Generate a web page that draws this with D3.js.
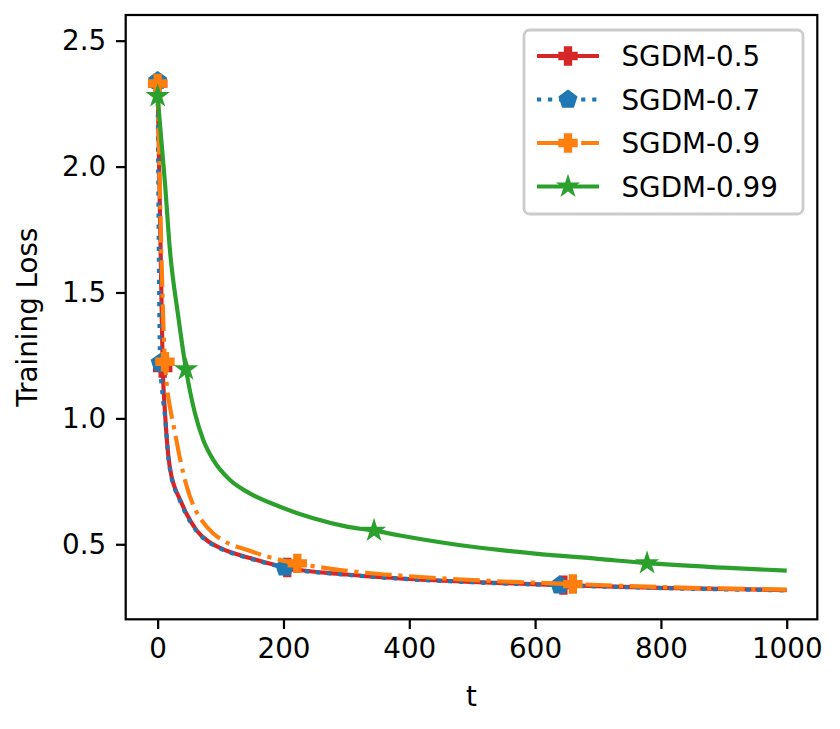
<!DOCTYPE html>
<html>
<head>
<meta charset="utf-8">
<script src="https://cdn.jsdelivr.net/npm/d3@7"></script>
<style>
  body { margin: 0; background: #fff; }
  text { font-family: "DejaVu Sans", sans-serif; fill: #000; }
</style>
</head>
<body>
<svg id="chart" width="840" height="729"></svg>
<script>
// values
const seriesNames = ['SGDM-0.5', 'SGDM-0.7', 'SGDM-0.9', 'SGDM-0.99'];

const stepsM05 = [0, 8, 12, 17, 22, 28, 36, 45, 62, 80, 100, 147, 173, 210, 300, 400, 500, 640, 800, 1000];
const lossM05 = [2.33, 1.20, 1.01, 0.85, 0.77, 0.72, 0.675, 0.625, 0.555, 0.512, 0.485, 0.445, 0.427, 0.405, 0.38, 0.362, 0.35, 0.338, 0.327, 0.318];

const stepsM07 = [0, 4, 8, 12, 17, 22, 28, 36, 45, 62, 80, 100, 147, 173, 210, 300, 400, 500, 640, 800, 1000];
const lossM07 = [2.34, 1.22, 1.09, 1.0, 0.845, 0.765, 0.715, 0.67, 0.62, 0.552, 0.51, 0.483, 0.443, 0.425, 0.403, 0.379, 0.361, 0.349, 0.337, 0.326, 0.317];

const stepsM09 = [0, 11.6, 15, 19.5, 27, 35.5, 45, 56.6, 70, 88, 104, 141.5, 194, 222, 300, 400, 500, 660, 800, 1000];
const lossM09 = [2.33, 1.225, 1.12, 1.046, 0.95, 0.84, 0.74, 0.655, 0.595, 0.544, 0.515, 0.478, 0.438, 0.424, 0.395, 0.373, 0.358, 0.342, 0.330, 0.320];

const stepsM099 = [0, 5, 11.6, 19.5, 32.8, 45, 59.3, 72.5, 88.4, 115, 141.5, 194.4, 247.4, 300.5, 344, 385, 500, 600, 700, 778, 900, 1000];
const lossM099 = [2.28, 2.13, 1.935, 1.669, 1.404, 1.195, 1.02, 0.914, 0.835, 0.755, 0.709, 0.649, 0.603, 0.570, 0.554, 0.535, 0.49, 0.463, 0.442, 0.425, 0.407, 0.395];

const markerStepsM05 = [0, 8, 206, 645];
const markerStepsM07 = [0, 4, 202, 639];
const markerStepsM09 = [0, 11.6, 222, 660];
const markerStepsM099 = [0, 45, 344, 778];

const xTicks = [0, 200, 400, 600, 800, 1000];
const yTicks = [0.5, 1.0, 1.5, 2.0, 2.5];

const colors = ['#d62728', '#1f77b4', '#ff7f0e', '#2ca02c'];

// matplotlib-ish sizes at 200 dpi
const pt = 200 / 72;
const fontSize = 10 * pt;
const lw = 1.5 * pt;

// marker shapes, size = outer radius
const plusFilled = {
  draw(ctx, r) {
    const a = r / 3;
    ctx.moveTo(-a, -r); ctx.lineTo(a, -r); ctx.lineTo(a, -a); ctx.lineTo(r, -a);
    ctx.lineTo(r, a); ctx.lineTo(a, a); ctx.lineTo(a, r); ctx.lineTo(-a, r);
    ctx.lineTo(-a, a); ctx.lineTo(-r, a); ctx.lineTo(-r, -a); ctx.lineTo(-a, -a);
    ctx.closePath();
  }
};
const pentagon = {
  draw(ctx, r) {
    for (let i = 0; i < 5; i++) {
      const ang = -Math.PI / 2 + i * 2 * Math.PI / 5;
      const px = r * Math.cos(ang), py = r * Math.sin(ang);
      if (i === 0) ctx.moveTo(px, py); else ctx.lineTo(px, py);
    }
    ctx.closePath();
  }
};
const star = {
  draw(ctx, r) {
    const ri = r * 0.381966;
    for (let i = 0; i < 10; i++) {
      const ang = -Math.PI / 2 + i * Math.PI / 5;
      const rr = i % 2 === 0 ? r : ri;
      const px = rr * Math.cos(ang), py = rr * Math.sin(ang);
      if (i === 0) ctx.moveTo(px, py); else ctx.lineTo(px, py);
    }
    ctx.closePath();
  }
};

const series = [
  { name: seriesNames[0], steps: stepsM05, loss: lossM05, marks: markerStepsM05, color: colors[0], dash: null, shape: plusFilled, r: 3 * pt },
  { name: seriesNames[1], steps: stepsM07, loss: lossM07, marks: markerStepsM07, color: colors[1], dash: [1 * lw, 1.65 * lw], shape: pentagon, r: 3 * pt },
  { name: seriesNames[2], steps: stepsM09, loss: lossM09, marks: markerStepsM09, color: colors[2], dash: [6.4 * lw, 1.6 * lw, 1 * lw, 1.6 * lw], shape: plusFilled, r: 3 * pt },
  { name: seriesNames[3], steps: stepsM099, loss: lossM099, marks: markerStepsM099, color: colors[3], dash: null, shape: star, r: 3 * pt },
];

const svg = d3.select('#chart');
const plot = { left: 125.7, right: 817.3, top: 15, bottom: 619.3 };

const x = d3.scaleLinear().domain([-50.8, 1048.6]).range([plot.left, plot.right]);
const y = d3.scaleLinear().domain([0.202, 2.602]).range([plot.bottom, plot.top]);

svg.append('clipPath').attr('id', 'clip')
  .append('rect')
  .attr('x', plot.left).attr('y', plot.top)
  .attr('width', plot.right - plot.left).attr('height', plot.bottom - plot.top);

const line = d3.line()
  .x((d) => x(d[0]))
  .y((d) => y(d[1]))
  .curve(d3.curveMonotoneX);

function lossAt(s, t) {
  const i = d3.bisectLeft(s.steps, t);
  if (i <= 0) return s.loss[0];
  if (i >= s.steps.length) return s.loss[s.loss.length - 1];
  const t0 = s.steps[i - 1], t1 = s.steps[i];
  const k = (t - t0) / (t1 - t0);
  return s.loss[i - 1] + k * (s.loss[i] - s.loss[i - 1]);
}

const lines = svg.append('g').attr('clip-path', 'url(#clip)');
series.forEach((s) => {
  const pts = s.steps.map((t, i) => [t, s.loss[i]]);
  lines.append('path')
    .attr('d', line(pts))
    .attr('fill', 'none')
    .attr('stroke', s.color)
    .attr('stroke-width', lw)
    .attr('stroke-dasharray', s.dash ? s.dash.join(',') : null)
    .attr('stroke-linejoin', 'round');
  lines.selectAll(null)
    .data(s.marks)
    .enter()
    .append('path')
    .attr('transform', (t) => `translate(${x(t)},${y(lossAt(s, t))})`)
    .attr('d', d3.symbol(s.shape, s.r))
    .attr('fill', s.color)
    .attr('stroke', s.color)
    .attr('stroke-width', pt)
    .attr('stroke-linejoin', 'miter');
});

// axes
const tickLen = 3.5 * pt;
const tickPad = 3.5 * pt;

const xAxis = svg.append('g')
  .attr('transform', `translate(0,${plot.bottom})`)
  .call(d3.axisBottom(x).tickValues(xTicks).tickFormat(d3.format('d'))
    .tickSize(tickLen).tickPadding(tickPad));
const yAxis = svg.append('g')
  .attr('transform', `translate(${plot.left},0)`)
  .call(d3.axisLeft(y).tickValues(yTicks).tickFormat(d3.format('.1f'))
    .tickSize(tickLen).tickPadding(tickPad));

[xAxis, yAxis].forEach((ax) => {
  ax.select('.domain').remove();
  ax.selectAll('.tick line').attr('stroke', '#000').attr('stroke-width', 0.8 * pt);
  ax.selectAll('.tick text')
    .style('font-family', '"DejaVu Sans", sans-serif')
    .style('font-size', fontSize + 'px')
    .attr('fill', '#000');
});

svg.append('rect')
  .attr('x', plot.left).attr('y', plot.top)
  .attr('width', plot.right - plot.left).attr('height', plot.bottom - plot.top)
  .attr('fill', 'none')
  .attr('stroke', '#000')
  .attr('stroke-width', 0.8 * pt);

svg.append('text')
  .attr('x', (plot.left + plot.right) / 2)
  .attr('y', 706)
  .attr('text-anchor', 'middle')
  .style('font-size', fontSize + 'px')
  .text('t');

svg.append('text')
  .attr('transform', `translate(37,${(plot.top + plot.bottom) / 2}) rotate(-90)`)
  .attr('text-anchor', 'middle')
  .style('font-size', fontSize + 'px')
  .text('Training Loss');

// legend
const legend = svg.append('g');
legend.append('rect')
  .attr('x', 524).attr('y', 30)
  .attr('width', 279).attr('height', 184)
  .attr('rx', 0.2 * fontSize)
  .attr('fill', '#fff').attr('fill-opacity', 0.8)
  .attr('stroke', '#cccccc').attr('stroke-width', 1 * pt);

const rowY = [56, 99.5, 143, 186.5];
series.forEach((s, i) => {
  const g = legend.append('g').attr('transform', `translate(0,${rowY[i]})`);
  g.append('line')
    .attr('x1', 537).attr('x2', 599)
    .attr('stroke', s.color)
    .attr('stroke-width', lw)
    .attr('stroke-dasharray', s.dash ? s.dash.join(',') : null);
  g.append('path')
    .attr('transform', 'translate(568,0)')
    .attr('d', d3.symbol(s.shape, s.r))
    .attr('fill', s.color)
    .attr('stroke', s.color)
    .attr('stroke-width', pt);
  g.append('text')
    .attr('x', 621.5)
    .attr('dy', '0.36em')
    .style('font-size', fontSize + 'px')
    .text(s.name);
});
</script>
</body>
</html>
